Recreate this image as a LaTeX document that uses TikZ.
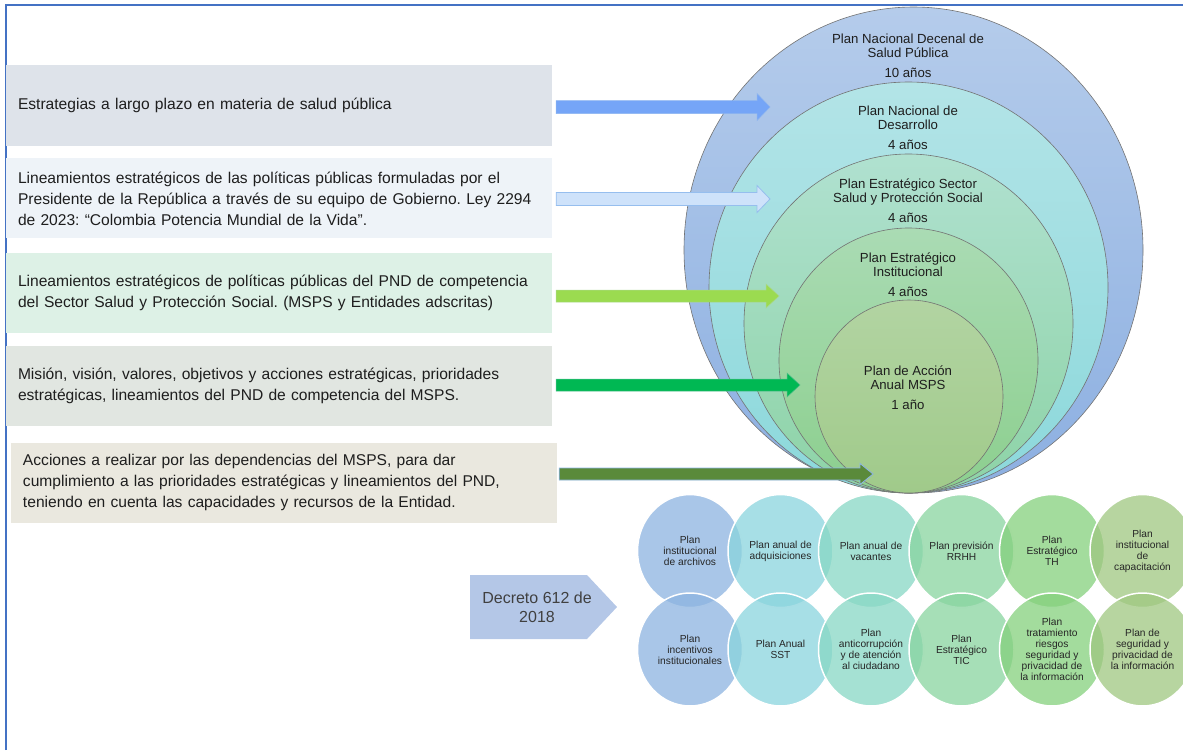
\documentclass[tikz,border=0pt]{standalone}
\usepackage{fontspec}
\setmainfont{Liberation Sans}
\usetikzlibrary{calc}
\usetikzlibrary{positioning}
\usetikzlibrary{shapes.geometric}
\definecolor{framecolor}{HTML}{4472C4}
\definecolor{textcolor}{HTML}{1E1E1E}
\definecolor{boxone}{HTML}{DEE3EA}
\definecolor{boxtwo}{HTML}{EEF3F8}
\definecolor{boxthree}{HTML}{DDF1E6}
\definecolor{boxfour}{HTML}{E1E6E1}
\definecolor{boxfive}{HTML}{EAE8DF}
\definecolor{ringonetop}{HTML}{B5CCEB}
\definecolor{ringonebot}{HTML}{8CAFE1}
\definecolor{ringtwotop}{HTML}{B3E4E7}
\definecolor{ringtwobot}{HTML}{8BD8DB}
\definecolor{ringthreetop}{HTML}{B0E1D0}
\definecolor{ringthreebot}{HTML}{8DD3A6}
\definecolor{ringfourtop}{HTML}{AADBB4}
\definecolor{ringfourbot}{HTML}{8CCF8E}
\definecolor{ringfivetop}{HTML}{B2D4A2}
\definecolor{ringfivebot}{HTML}{A0CA8A}
\definecolor{planA}{HTML}{8CB3E0}
\definecolor{planB}{HTML}{8AD4DD}
\definecolor{planC}{HTML}{87D7C4}
\definecolor{planD}{HTML}{88D49F}
\definecolor{planE}{HTML}{84D07C}
\definecolor{planF}{HTML}{9FC780}
\definecolor{decretocolor}{HTML}{B4C7E7}

% fat block arrow: start, tip, style, half shaft, half head
\newcommand{\fatarrow}[5]{%
  \filldraw[#3] ($(#1)+(0,-#4)$) -- ($(#2)+(-13,-#4)$) -- ($(#2)+(-13,-#5)$) -- (#2)
    -- ($(#2)+(-13,#5)$) -- ($(#2)+(-13,#4)$) -- ($(#1)+(0,#4)$) -- cycle;}

\begin{document}
\frenchspacing
\begin{tikzpicture}[x=1pt, y=-1pt,
    infobox/.style={minimum height=80pt, text width=522pt, inner xsep=12pt, align=left,
      text=textcolor, font=\fontsize{15.6}{21}\selectfont},
    ring/.style={draw=black!55, line width=0.6pt},
    ringlabel/.style={align=center, text=textcolor, font=\fontsize{13.2}{14}\selectfont},
    smallplan/.style={ellipse, minimum width=105pt, minimum height=113pt, inner sep=0pt,
      draw=white, line width=1.5pt, fill opacity=0.75, text opacity=1, align=center,
      text=black!85, font=\fontsize{10.2}{11}\selectfont}]
  \useasboundingbox (0,0) rectangle (1183,750);

  % frame
  \draw[framecolor, line width=2pt] (6,750) -- (6,5) -- (1183,5);

  % left boxes
  \node[infobox, fill=boxone, minimum height=81pt] (b1) at (279,105.5)
    {Estrategias a largo plazo en materia de salud pública};
  \node[infobox, fill=boxtwo, below=12pt of b1] (b2)
    {Lineamientos estratégicos de las políticas públicas formuladas por el\\
     Presidente de la República a través de su equipo de Gobierno. Ley 2294\\
     de 2023: “Colombia Potencia Mundial de la Vida”.};
  \node[infobox, fill=boxthree, below=14pt of b2] (b3)
    {Lineamientos estratégicos de políticas públicas del PND de competencia\\
     del Sector Salud y Protección Social. (MSPS y Entidades adscritas)};
  \node[infobox, fill=boxfour, below=13pt of b3] (b4)
    {Misión, visión, valores, objetivos y acciones estratégicas, prioridades\\
     estratégicas, lineamientos del PND de competencia del MSPS.};
  \node[infobox, fill=boxfive, below=16pt of b4.south west, anchor=north west, xshift=5pt] (b5)
    {Acciones a realizar por las dependencias del MSPS, para dar\\
     cumplimiento a las prioridades estratégicas y lineamientos del PND,\\
     teniendo en cuenta las capacidades y recursos de la Entidad.};

  % nested plans
  \draw[ring, top color=ringonetop, bottom color=ringonebot] (913.5,250) ellipse [x radius=229.5pt, y radius=243pt];
  \draw[ring, top color=ringtwotop, bottom color=ringtwobot] (908.5,287.5) ellipse [x radius=199.5pt, y radius=205.5pt];
  \draw[ring, top color=ringthreetop, bottom color=ringthreebot] (908.5,323.5) ellipse [x radius=164.5pt, y radius=169.5pt];
  \draw[ring, top color=ringfourtop, bottom color=ringfourbot] (908.5,360.5) ellipse [x radius=129.5pt, y radius=132.5pt];
  \draw[ring, top color=ringfivetop, bottom color=ringfivebot] (909,396.5) ellipse [x radius=94pt, y radius=96.5pt];

  \node[ringlabel] (pndsp) at (908,56) {Plan Nacional Decenal de\\Salud Pública\\[6pt]10 años};
  \node[ringlabel] (pnd) at (908,128) {Plan Nacional de\\Desarrollo\\[6pt]4 años};
  \node[ringlabel] (pess) at (908,201) {Plan Estratégico Sector\\Salud y Protección Social\\[6pt]4 años};
  \node[ringlabel] (pei) at (908,275) {Plan Estratégico\\Institucional\\[6pt]4 años};
  \node[ringlabel] (paa) at (908,388) {Plan de Acción\\Anual MSPS\\[6pt]1 año};

  % arrows from the boxes into the plans
  \coordinate (t1) at (770,107);
  \coordinate (t2) at (770,199);
  \coordinate (t3) at (779,296);
  \coordinate (t4) at (800,385);
  \coordinate (t5) at (873,474);
  \coordinate (s1) at ($(b1.east |- t1)+(4,0)$);
  \coordinate (s2) at ($(b2.east |- t2)+(4,0)$);
  \coordinate (s3) at ($(b3.east |- t3)+(4,0)$);
  \coordinate (s4) at ($(b4.east |- t4)+(4,0)$);
  \coordinate (s5) at ($(b5.east |- t5)+(2,0)$);
  \fatarrow{s1}{t1}{fill={rgb,255:red,117;green,165;blue,247}, draw={rgb,255:red,140;green,180;blue,240}, line width=0.5pt}{6.5}{13.5}
  \fatarrow{s2}{t2}{fill={rgb,255:red,206;green,226;blue,250}, draw={rgb,255:red,150;green,190;blue,238}, line width=0.8pt}{6.5}{13.5}
  \fatarrow{s3}{t3}{fill={rgb,255:red,155;green,219;blue,80}, draw={rgb,255:red,170;green,215;blue,140}, line width=0.5pt}{6}{12}
  \fatarrow{s4}{t4}{fill={rgb,255:red,0;green,184;blue,83}, draw={rgb,255:red,80;green,190;blue,140}, line width=0.5pt}{6}{12}
  \fatarrow{s5}{t5}{fill={rgb,255:red,90;green,138;blue,58}, draw={rgb,255:red,140;green,180;blue,230}, line width=0.8pt}{6}{10.5}

  % Decreto 612 de 2018
  \fill[decretocolor] (470,575) -- (587,575) -- (617,607) -- (587,639) -- (470,639) -- cycle;
  \node[align=center, text=black!75, font=\fontsize{16}{19}\selectfont] (decreto) at (537,607) {Decreto 612 de\\2018};

  % plans of Decreto 612
  \node[smallplan, fill=planA] (p1) at (690,551) {Plan\\institucional\\de archivos};
  \node[smallplan, fill=planB, right=-16pt of p1] (p2) {Plan anual de\\adquisiciones};
  \node[smallplan, fill=planC, right=-16pt of p2] (p3) {Plan anual de\\vacantes};
  \node[smallplan, fill=planD, right=-16pt of p3] (p4) {Plan previsión\\RRHH};
  \node[smallplan, fill=planE, right=-16pt of p4] (p5) {Plan\\Estratégico\\TH};
  \node[smallplan, fill=planF, right=-16pt of p5] (p6) {Plan\\institucional\\de\\capacitación};
  \node[smallplan, fill=planA, below=-16pt of p1] (p7) {Plan\\incentivos\\institucionales};
  \node[smallplan, fill=planB, below=-16pt of p2] (p8) {Plan Anual\\SST};
  \node[smallplan, fill=planC, below=-16pt of p3] (p9) {Plan\\anticorrupción\\y de atención\\al ciudadano};
  \node[smallplan, fill=planD, below=-16pt of p4] (p10) {Plan\\Estratégico\\TIC};
  \node[smallplan, fill=planE, below=-16pt of p5] (p11) {Plan\\tratamiento\\riesgos\\seguridad y\\privacidad de\\la información};
  \node[smallplan, fill=planF, below=-16pt of p6] (p12) {Plan de\\seguridad y\\privacidad de\\la información};
\end{tikzpicture}
\end{document}
